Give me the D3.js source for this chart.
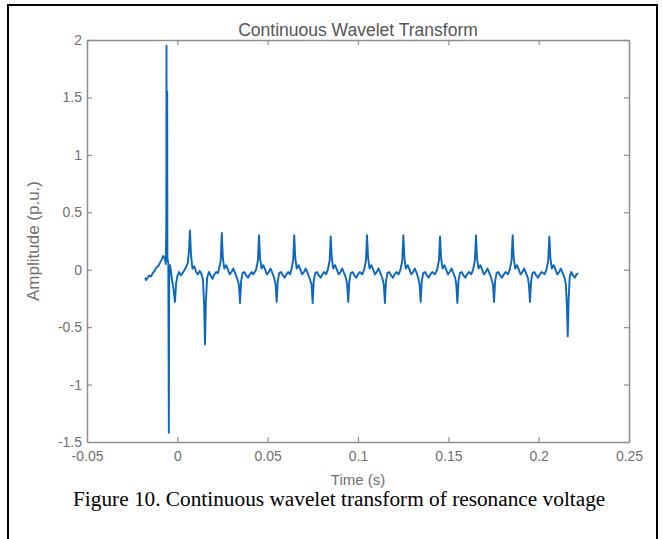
<!DOCTYPE html>
<html>
<head>
<meta charset="utf-8">
<script src="https://cdn.jsdelivr.net/npm/d3@7/dist/d3.min.js"></script>
<style>
  html, body { margin: 0; padding: 0; background: #fff; }
  svg { display: block; }
</style>
</head>
<body>
<script>
// ---- data ----
const titleText = "Continuous Wavelet Transform";
const xLabel = "Time (s)";
const yLabel = "Amplitude (p.u.)";
const caption = "Figure 10. Continuous wavelet transform of resonance voltage";
const xDomain = [-0.05, 0.25];
const yDomain = [-1.5, 2];
const xTicks = [-0.05, 0, 0.05, 0.1, 0.15, 0.2, 0.25];
const xTickLabels = ["-0.05", "0", "0.05", "0.1", "0.15", "0.2", "0.25"];
const yTicks = [-1.5, -1, -0.5, 0, 0.5, 1, 1.5, 2];
const yTickLabels = ["-1.5", "-1", "-0.5", "0", "0.5", "1", "1.5", "2"];

// signal: time (s)
const timeS = [
 -0.0179,-0.0172,-0.0165,-0.0156,-0.0146,-0.0136,-0.0126,-0.0116,-0.0106,-0.0096,-0.0086,-0.0078,-0.0070,-0.0064,-0.0061,-0.0060,-0.0059,-0.0057,-0.0056,-0.0055,-0.0050,-0.0047,-0.0045,-0.0040,-0.0032,-0.0022,-0.0013,-0.0007,0.0001,0.0010,0.0019,0.0029,0.0040,0.0050,0.0058,0.0064,
 0.0070,0.0076,0.0084,0.0094,0.0104,0.0114,0.0124,0.0134,0.0142,0.0148,0.0153,0.0158,0.0165,0.0175,0.0185,0.0195,0.0205,0.0215,0.0224,
 0.0230,0.0240,0.0246,0.0252,0.0260,0.0270,0.0280,0.0290,0.0300,0.0310,0.0320,0.0330,0.0341,0.0347,0.0353,0.0361,0.0371,0.0381,0.0391,0.0401,0.0411,0.0421,
 0.0436,0.0446,0.0452,0.0458,0.0466,0.0476,0.0486,0.0496,0.0506,0.0516,0.0526,0.0536,0.0544,0.0550,0.0556,0.0564,0.0574,0.0584,0.0594,0.0604,0.0614,0.0624,
 0.0631,0.0641,0.0647,0.0653,0.0661,0.0671,0.0681,0.0691,0.0701,0.0711,0.0721,0.0731,0.0743,0.0749,0.0755,0.0763,0.0773,0.0783,0.0793,0.0803,0.0813,0.0823,
 0.0833,0.0843,0.0849,0.0855,0.0863,0.0873,0.0883,0.0893,0.0903,0.0913,0.0923,0.0933,0.0940,0.0946,0.0952,0.0960,0.0970,0.0980,0.0990,0.1000,0.1010,0.1024,
 0.1034,0.1044,0.1050,0.1056,0.1064,0.1074,0.1084,0.1094,0.1104,0.1114,0.1124,0.1134,0.1143,0.1149,0.1155,0.1163,0.1173,0.1183,0.1193,0.1203,0.1213,0.1225,
 0.1235,0.1245,0.1251,0.1257,0.1265,0.1275,0.1285,0.1295,0.1305,0.1315,0.1325,0.1333,0.1341,0.1347,0.1353,0.1361,0.1371,0.1381,0.1391,0.1401,0.1411,0.1426,
 0.1438,0.1448,0.1454,0.1460,0.1468,0.1478,0.1488,0.1498,0.1508,0.1518,0.1528,0.1538,0.1544,0.1550,0.1556,0.1564,0.1574,0.1584,0.1594,0.1604,0.1614,0.1627,
 0.1637,0.1647,0.1653,0.1659,0.1667,0.1677,0.1687,0.1697,0.1707,0.1717,0.1727,0.1737,0.1747,0.1753,0.1759,0.1767,0.1777,0.1787,0.1797,0.1807,0.1817,0.1830,
 0.1840,0.1850,0.1856,0.1862,0.1870,0.1880,0.1890,0.1900,0.1910,0.1920,0.1930,0.1940,0.1946,0.1952,0.1958,0.1966,0.1976,0.1986,0.1996,0.2006,0.2016,0.2033,
 0.2043,0.2053,0.2059,0.2065,0.2073,0.2083,0.2093,0.2103,0.2113,0.2123,0.2133,0.2143,0.2150,0.2156,0.2161,0.2166,0.2172,0.2180,0.2190,0.2200,0.2210,0.2219
];
// signal: amplitude (p.u.)
const amplitude = [
 -0.07,-0.09,-0.07,-0.05,-0.06,-0.03,-0.01,0.02,0.03,0.06,0.09,0.12,0.10,0.05,0.40,1.95,0.30,0.08,1.55,0.10,0.06,-1.42,-0.05,0.04,-0.06,-0.16,-0.28,-0.12,-0.05,-0.02,-0.05,-0.03,0.00,0.03,0.06,0.16,
 0.34,0.12,0.01,0.03,-0.02,-0.04,-0.01,-0.04,-0.09,-0.30,-0.65,-0.28,-0.07,-0.02,-0.05,-0.08,-0.04,-0.02,-0.03,
 0.00,0.08,0.32,0.10,0.01,0.04,0.00,-0.04,-0.02,0.01,-0.03,-0.07,-0.13,-0.29,-0.10,-0.03,-0.02,-0.05,-0.07,-0.04,-0.02,-0.04,
 0.00,0.08,0.30,0.10,0.01,0.04,0.00,-0.04,-0.02,0.01,-0.03,-0.07,-0.13,-0.28,-0.10,-0.03,-0.02,-0.05,-0.07,-0.04,-0.02,-0.04,
 0.00,0.08,0.30,0.10,0.01,0.04,0.00,-0.04,-0.02,0.01,-0.03,-0.07,-0.13,-0.29,-0.10,-0.03,-0.02,-0.05,-0.07,-0.04,-0.02,-0.04,
 0.00,0.08,0.29,0.10,0.01,0.04,0.00,-0.04,-0.02,0.01,-0.03,-0.07,-0.13,-0.28,-0.10,-0.03,-0.02,-0.05,-0.07,-0.04,-0.02,-0.04,
 0.00,0.08,0.30,0.10,0.01,0.04,0.00,-0.04,-0.02,0.01,-0.03,-0.07,-0.13,-0.29,-0.10,-0.03,-0.02,-0.05,-0.07,-0.04,-0.02,-0.04,
 0.00,0.08,0.30,0.10,0.01,0.04,0.00,-0.04,-0.02,0.01,-0.03,-0.07,-0.13,-0.28,-0.10,-0.03,-0.02,-0.05,-0.07,-0.04,-0.02,-0.04,
 0.00,0.08,0.29,0.10,0.01,0.04,0.00,-0.04,-0.02,0.01,-0.03,-0.07,-0.13,-0.29,-0.10,-0.03,-0.02,-0.05,-0.07,-0.04,-0.02,-0.04,
 0.00,0.08,0.30,0.10,0.01,0.04,0.00,-0.04,-0.02,0.01,-0.03,-0.07,-0.13,-0.28,-0.10,-0.03,-0.02,-0.05,-0.07,-0.04,-0.02,-0.04,
 0.00,0.08,0.30,0.10,0.01,0.04,0.00,-0.04,-0.02,0.01,-0.03,-0.07,-0.13,-0.28,-0.10,-0.03,-0.02,-0.05,-0.07,-0.04,-0.02,-0.04,
 0.00,0.08,0.29,0.10,0.01,0.04,0.00,-0.04,-0.02,0.01,-0.03,-0.07,-0.12,-0.30,-0.58,-0.25,-0.06,-0.02,-0.05,-0.07,-0.04,-0.03
];

// ---- layout ----
const W = 663, H = 539;
const plot = { left: 87, right: 629, top: 40, bottom: 442 };
const axisColor = "#8e8e8e";
const textColor = "#707070";
const lineColor = "#0b68bb";

const svg = d3.select("body").append("svg").attr("width", W).attr("height", H);

// outer figure frame
svg.append("rect")
  .attr("x", 8).attr("y", 5).attr("width", 649).attr("height", 600)
  .attr("fill", "none").attr("stroke", "#000").attr("stroke-width", 2);

const x = d3.scaleLinear().domain(xDomain).range([plot.left, plot.right]);
const y = d3.scaleLinear().domain(yDomain).range([plot.bottom, plot.top]);

const fontFam = "Arial, 'Liberation Sans', Helvetica, sans-serif";

function styleAxis(g) {
  g.select(".domain").attr("stroke", axisColor).attr("stroke-width", 1.5);
  g.selectAll(".tick line").attr("stroke", axisColor).attr("stroke-width", 1.2);
  g.selectAll(".tick text").attr("fill", textColor).attr("font-size", 14).attr("font-family", fontFam);
}

// bottom axis
svg.append("g").attr("transform", `translate(0,${plot.bottom})`)
  .call(d3.axisBottom(x).tickValues(xTicks).tickFormat((d, i) => xTickLabels[i]).tickSizeInner(-5).tickSizeOuter(0).tickPadding(9))
  .call(styleAxis);
// top axis (ticks only)
svg.append("g").attr("transform", `translate(0,${plot.top})`)
  .call(d3.axisTop(x).tickValues(xTicks).tickFormat("").tickSizeInner(-5).tickSizeOuter(0))
  .call(styleAxis);
// left axis
svg.append("g").attr("transform", `translate(${plot.left},0)`)
  .call(d3.axisLeft(y).tickValues(yTicks).tickFormat((d, i) => yTickLabels[i]).tickSizeInner(-5).tickSizeOuter(0).tickPadding(5))
  .call(styleAxis);
// right axis (ticks only)
svg.append("g").attr("transform", `translate(${plot.right},0)`)
  .call(d3.axisRight(y).tickValues(yTicks).tickFormat("").tickSizeInner(-5).tickSizeOuter(0))
  .call(styleAxis);

// signal line
const pts = timeS.map((t, i) => [t, amplitude[i]]);
svg.append("path")
  .datum(pts)
  .attr("fill", "none")
  .attr("stroke", lineColor)
  .attr("stroke-width", 1.9)
  .attr("stroke-linejoin", "round")
  .attr("d", d3.line().x(d => x(d[0])).y(d => y(d[1])));

// title
svg.append("text")
  .attr("x", (plot.left + plot.right) / 2).attr("y", 36)
  .attr("text-anchor", "middle")
  .attr("font-family", fontFam).attr("font-size", 17.5)
  .attr("fill", "#555")
  .text(titleText);

// x label
svg.append("text")
  .attr("x", (plot.left + plot.right) / 2).attr("y", 485)
  .attr("text-anchor", "middle")
  .attr("font-family", fontFam).attr("font-size", 15)
  .attr("fill", textColor)
  .text(xLabel);

// y label
svg.append("text")
  .attr("transform", `translate(39,${(plot.top + plot.bottom) / 2}) rotate(-90)`)
  .attr("text-anchor", "middle")
  .attr("font-family", fontFam).attr("font-size", 17)
  .attr("fill", textColor)
  .text(yLabel);

// caption
svg.append("text")
  .attr("x", 73).attr("y", 506)
  .attr("font-family", "'Liberation Serif', 'Times New Roman', serif").attr("font-size", 21.3)
  .attr("fill", "#000")
  .text(caption);
</script>
</body>
</html>
